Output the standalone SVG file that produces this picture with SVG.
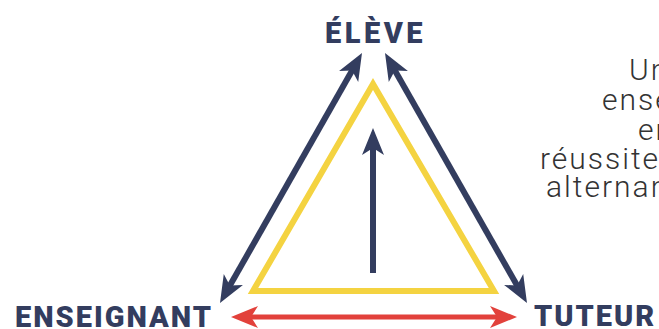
<svg xmlns="http://www.w3.org/2000/svg" width="659" height="329" viewBox="0 0 659 329">
<style>
.lbl{font-family:Roboto,"Liberation Sans",sans-serif;font-weight:900;font-size:29px;fill:#333d5f;letter-spacing:2px}
.body{font-family:Roboto,"Liberation Sans",sans-serif;font-weight:300;font-size:30px;fill:#333333;letter-spacing:2px}
.navy{stroke:#333d5f;stroke-width:6;fill:none}
.red{stroke:#e2413b;stroke-width:5;fill:none}
</style>
<defs>
<marker id="hn" viewBox="-30 -13 32 26" markerWidth="32" markerHeight="26" markerUnits="userSpaceOnUse" refX="-18" refY="0" orient="auto-start-reverse">
<path d="M0,0 L-27,-11 L-20,0 L-27,11 Z" fill="#333d5f"/>
</marker>
<marker id="hr" viewBox="-30 -13 32 26" markerWidth="32" markerHeight="26" markerUnits="userSpaceOnUse" refX="-18" refY="0" orient="auto-start-reverse">
<path d="M0,0 L-27,-11 L-20,0 L-27,11 Z" fill="#e2413b"/>
</marker>
</defs>
<g id="triangle">
<polygon points="373,84 253,291 494,291" fill="none" stroke="#f4d341" stroke-width="6" stroke-linejoin="miter"/>
</g>
<g id="eleve"><text class="lbl" x="325" y="43" style="letter-spacing:3.5px">ÉLÈVE</text></g>
<g id="enseignant"><text class="lbl" x="15" y="327">ENSEIGNANT</text></g>
<g id="tuteur"><text class="lbl" x="534" y="326">TUTEUR</text></g>
<g id="connectors">
<line class="navy" x1="228.9" y1="287.3" x2="353.1" y2="68.7" marker-start="url(#hn)" marker-end="url(#hn)"/>
<line class="navy" x1="393.9" y1="68.7" x2="518.1" y2="287.3" marker-start="url(#hn)" marker-end="url(#hn)"/>
<line class="navy" x1="373" y1="273" x2="373" y2="146" marker-end="url(#hn)"/>
<line class="red" x1="249" y1="317" x2="499" y2="317" marker-start="url(#hr)" marker-end="url(#hr)"/>
</g>
<g id="caption">
<text class="body" x="629" y="80">Un</text>
<text class="body" x="602" y="110">ense</text>
<text class="body" x="638" y="140">en</text>
<text class="body" x="540" y="169">réussite</text>
<text class="body" x="546" y="197">alternan</text>
</g>
</svg>
